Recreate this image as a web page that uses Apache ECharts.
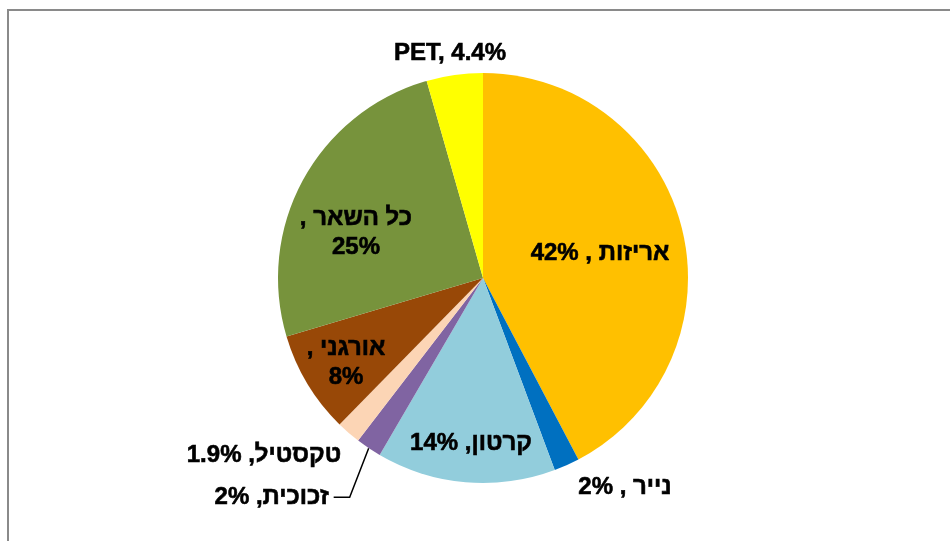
<!DOCTYPE html>
<html lang="he">
<head>
<meta charset="utf-8">
<title>הרכב פסולת</title>
<script src="https://cdn.jsdelivr.net/npm/echarts@6/dist/echarts.min.js"></script>
<style>
  html, body { margin: 0; padding: 0; background: #ffffff; }
  #chart { width: 950px; height: 541px; }
</style>
</head>
<body>
<div id="chart"></div>
<script>
// Waste composition, percent of total
const categories = ['אריזות ', 'נייר ', 'קרטון', 'זכוכית', 'טקסטיל', 'אורגני ', 'כל השאר ', 'PET'];
const shares = [42, 2, 14, 2, 1.9, 8, 25, 4.4];

// Slice colours, in the same order as the categories
const sliceColors = ['#FFC000', '#0070C0', '#92CDDC', '#8064A2', '#FCD5B5', '#984807', '#77933C', '#FFFF00'];

// Two labels break after the comma
const wrapLabel = [false, false, false, false, false, true, true, false];

// Label centres in pixels; the glass label hangs off a leader line instead
const labelSpots = {
  0: [600, 253],
  1: [625, 487],
  2: [471, 443],
  4: [264, 455],
  5: [346, 363],
  6: [356, 233],
  7: [450, 53]
};
const leaderIndex = 3;

const FONT = '"Liberation Sans", Arial, "DejaVu Sans", sans-serif';

const seriesData = categories.map((name, i) => ({
  name: name,
  value: shares[i],
  itemStyle: { color: sliceColors[i] },
  label: i === leaderIndex
    ? { position: 'outside' }
    : { position: 'inside' },
  labelLine: { show: i === leaderIndex }
}));

const chart = echarts.init(document.getElementById('chart'), null, { renderer: 'canvas' });

chart.setOption({
  animation: false,
  backgroundColor: '#ffffff',
  graphic: [{
    type: 'rect',
    shape: { x: 8, y: 10, width: 1000, height: 600 },
    style: { fill: 'none', stroke: '#8a8a8a', lineWidth: 2 },
    silent: true,
    z: 0
  }],
  series: [{
    type: 'pie',
    center: [483, 278],
    radius: 205,
    startAngle: 90,
    clockwise: true,
    avoidLabelOverlap: false,
    data: seriesData,
    itemStyle: { borderWidth: 0 },
    emphasis: { disabled: true },
    label: {
      show: true,
      color: '#000000',
      fontFamily: FONT,
      fontWeight: 'bold',
      fontSize: 24,
      lineHeight: 29,
      align: 'center',
      textBorderColor: '#000000',
      textBorderWidth: 0.6,
      formatter: function (p) {
        const i = p.dataIndex;
        return wrapLabel[i]
          ? p.name + ',\u200F\n' + p.value + '%'
          : p.name + ', ' + p.value + '%';
      }
    },
    labelLine: {
      show: false,
      length: 50,
      length2: 16,
      smooth: false,
      lineStyle: { color: '#000000', width: 1.5 }
    },
    labelLayout: function (p) {
      const spot = labelSpots[p.dataIndex];
      if (spot) {
        return { x: spot[0], y: spot[1], align: 'center', verticalAlign: 'middle' };
      }
      if (p.dataIndex === leaderIndex && p.labelLinePoints) {
        const a = p.labelLinePoints[0];
        const bend = [a[0] - 19, a[1] + 49];
        const end = [bend[0] - 16, bend[1]];
        return {
          x: end[0] - 5,
          y: end[1],
          align: 'right',
          verticalAlign: 'middle',
          labelLinePoints: [a, bend, end]
        };
      }
      return {};
    }
  }]
});
</script>
</body>
</html>
